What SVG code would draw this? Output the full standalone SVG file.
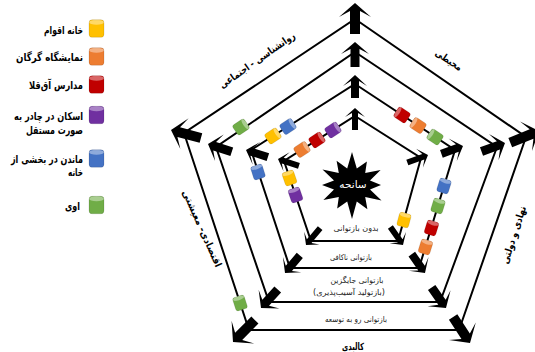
<svg xmlns="http://www.w3.org/2000/svg" width="535" height="352" viewBox="0 0 535 352">
<style>
text{font-family:"DejaVu Sans",sans-serif}
.edge{fill:none;stroke:#000;stroke-width:2;stroke-linejoin:miter}
.lg{font-size:11px;font-weight:bold;fill:#000;text-anchor:end}
.lv{font-size:8px;fill:#222;text-anchor:middle}
.ax{font-size:10px;font-weight:bold;fill:#000;text-anchor:middle}
</style>
<defs>
<path id="a4" d="M0,0 L-14,-16 L-8,-5 L-31,-5 L-31,5 L-8,5 L-14,16 Z" fill="#000"/>
<path id="a3" d="M0,0 L-12,-14 L-7,-4.5 L-25,-4.5 L-25,4.5 L-7,4.5 L-12,14 Z" fill="#000"/>
<path id="a2" d="M0,0 L-11,-12 L-6,-4 L-23,-4 L-23,4 L-6,4 L-11,12 Z" fill="#000"/>
<path id="a1" d="M0,0 L-9,-10 L-5,-3 L-22,-3 L-22,3 L-5,3 L-9,10 Z" fill="#000"/>
<g id="cyl">
<rect x="-6" y="-7" width="12" height="14" rx="2.5" fill="currentColor"/>
<ellipse cx="0" cy="-5" rx="6" ry="2" fill="#fff" fill-opacity=".4"/>
<rect x="-6" y="-7" width="12" height="14" rx="2.5" fill="none" stroke="#000" stroke-opacity=".15" stroke-width=".6"/>
</g>
</defs>

<g id="legend">
<g id="leg-yellow"><use href="#cyl" color="#FFC000" transform="translate(96.5,28.5) scale(1.25)"/><text class="lg" x="83" y="34" textLength="39" lengthAdjust="spacingAndGlyphs">خانه اقوام</text></g>
<g id="leg-orange"><use href="#cyl" color="#ED7D31" transform="translate(96.5,56.5) scale(1.25)"/><text class="lg" x="83" y="61" textLength="67" lengthAdjust="spacingAndGlyphs">نمایشگاه گرگان</text></g>
<g id="leg-red"><use href="#cyl" color="#C00000" transform="translate(96.5,84.5) scale(1.25)"/><text class="lg" x="83" y="89" textLength="54" lengthAdjust="spacingAndGlyphs">مدارس آق‌قلا</text></g>
<g id="leg-purple"><use href="#cyl" color="#7030A0" transform="translate(96.5,115) scale(1.25)"/><text class="lg" x="83" y="120" textLength="69" lengthAdjust="spacingAndGlyphs">اسکان در چادر به</text><text class="lg" x="83" y="134" textLength="57" lengthAdjust="spacingAndGlyphs">صورت مستقل</text></g>
<g id="leg-blue"><use href="#cyl" color="#4472C4" transform="translate(96.5,158.5) scale(1.25)"/><text class="lg" x="83" y="163" textLength="72" lengthAdjust="spacingAndGlyphs">ماندن در بخشی از</text><text class="lg" x="83" y="176" textLength="15" lengthAdjust="spacingAndGlyphs">خانه</text></g>
<g id="leg-green"><use href="#cyl" color="#70AD47" transform="translate(96.5,205) scale(1.25)"/><text class="lg" x="80" y="210" textLength="15" lengthAdjust="spacingAndGlyphs">اوی</text></g>
</g>

<g id="connectors">
<polygon class="edge" points="355,19 526,137 459,330 249,330 184,133"/>
<polygon class="edge" points="355,52 497,147 440,302 269,302 216,147"/>
<polygon class="edge" points="355,84 455,150 419,268 290,268 251,150"/>
<polygon class="edge" points="355,116 421,158 398,241 311,241 284,161"/>
<use href="#a4" transform="translate(355,3) rotate(-90)"/>
<use href="#a4" transform="translate(171,130) rotate(-165)"/>
<use href="#a4" transform="translate(539,131) rotate(-22)"/>
<use href="#a4" transform="translate(233,342) rotate(135)"/>
<use href="#a4" transform="translate(470,343) rotate(57)"/>
<use href="#a3" transform="translate(355,42) rotate(-90)"/>
<use href="#a3" transform="translate(208,144) rotate(-162)"/>
<use href="#a3" transform="translate(505,143) rotate(-20)"/>
<use href="#a3" transform="translate(261,308) rotate(132)"/>
<use href="#a3" transform="translate(446,308) rotate(55)"/>
<use href="#a2" transform="translate(355,75) rotate(-90)"/>
<use href="#a2" transform="translate(246,150) rotate(-162)"/>
<use href="#a2" transform="translate(463,146) rotate(-20)"/>
<use href="#a2" transform="translate(285,273) rotate(130)"/>
<use href="#a2" transform="translate(425,273) rotate(55)"/>
<use href="#a1" transform="translate(355,108) rotate(-90)"/>
<use href="#a1" transform="translate(278,159) rotate(-162)"/>
<use href="#a1" transform="translate(428,155) rotate(-20)"/>
<use href="#a1" transform="translate(306,245) rotate(130)"/>
<use href="#a1" transform="translate(403,245) rotate(55)"/>
</g>

<g id="markers">
<use href="#cyl" color="#70AD47" transform="translate(241,127) rotate(56)"/>
<use href="#cyl" color="#4472C4" transform="translate(288,126.5) rotate(57)"/>
<use href="#cyl" color="#FFC000" transform="translate(273,136) rotate(57)"/>
<use href="#cyl" color="#7030A0" transform="translate(333,130) rotate(57)"/>
<use href="#cyl" color="#C00000" transform="translate(317,140) rotate(57)"/>
<use href="#cyl" color="#ED7D31" transform="translate(302,149.5) rotate(57)"/>
<use href="#cyl" color="#C00000" transform="translate(402,115) rotate(-57)"/>
<use href="#cyl" color="#ED7D31" transform="translate(418,125.5) rotate(-57)"/>
<use href="#cyl" color="#70AD47" transform="translate(435,137) rotate(-57)"/>
<use href="#cyl" color="#FFC000" transform="translate(289.5,178) rotate(-19)"/>
<use href="#cyl" color="#7030A0" transform="translate(295.5,195) rotate(-19)"/>
<use href="#cyl" color="#4472C4" transform="translate(258,172) rotate(-18)"/>
<use href="#cyl" color="#70AD47" transform="translate(240,303) rotate(-18)"/>
<use href="#cyl" color="#4472C4" transform="translate(444,186) rotate(17)"/>
<use href="#cyl" color="#70AD47" transform="translate(438,206) rotate(17)"/>
<use href="#cyl" color="#C00000" transform="translate(431.5,228) rotate(17)"/>
<use href="#cyl" color="#ED7D31" transform="translate(425.5,247) rotate(17)"/>
<use href="#cyl" color="#FFC000" transform="translate(404,220) rotate(15)"/>
</g>

<g id="disaster">
<polygon fill="#000" points="352,152 356.8,168.6 366.9,161.6 365.2,173 380.6,170 370,180.6 381,185 370,189.4 381.5,200.5 365.2,197 367.4,209.2 356.8,201.4 352,219 347.2,201.4 337.2,208.4 338.8,197 323.4,200 334,189.4 322,185 334,180.6 322.5,169.5 338.8,173 336.6,160.8 347.2,168.6"/>
<text x="353" y="188" font-size="10.5" fill="#fff" text-anchor="middle">سانحه</text>
</g>

<g id="levels">
<text class="lv" x="356" y="231" textLength="45" lengthAdjust="spacingAndGlyphs">بدون بازتوانی</text>
<text class="lv" x="351" y="260" textLength="42" lengthAdjust="spacingAndGlyphs">بازتوانی ناکافی</text>
<text class="lv" x="357" y="283" textLength="53" lengthAdjust="spacingAndGlyphs">بازتوانی جایگزین</text>
<text class="lv" x="349" y="295" textLength="72" lengthAdjust="spacingAndGlyphs">(بازتولید آسیب‌پذیری)</text>
<text class="lv" x="356" y="322" textLength="62" lengthAdjust="spacingAndGlyphs">بازتوانی رو به توسعه</text>
</g>

<g id="dimensions">
<text class="ax" transform="translate(259,63) rotate(-35)" textLength="90" lengthAdjust="spacingAndGlyphs">روانشناسی - اجتماعی</text>
<text class="ax" transform="translate(447,63) rotate(34)" textLength="30" lengthAdjust="spacingAndGlyphs">محیطی</text>
<text class="ax" transform="translate(517,236) rotate(-72)" textLength="60" lengthAdjust="spacingAndGlyphs">نهادی و دولتی</text>
<text class="ax" transform="translate(199,230) rotate(66)" textLength="83" lengthAdjust="spacingAndGlyphs">اقتصادی- معیشتی</text>
<text class="ax" x="353" y="350" font-size="10" textLength="22" lengthAdjust="spacingAndGlyphs">کالبدی</text>
</g>
</svg>
